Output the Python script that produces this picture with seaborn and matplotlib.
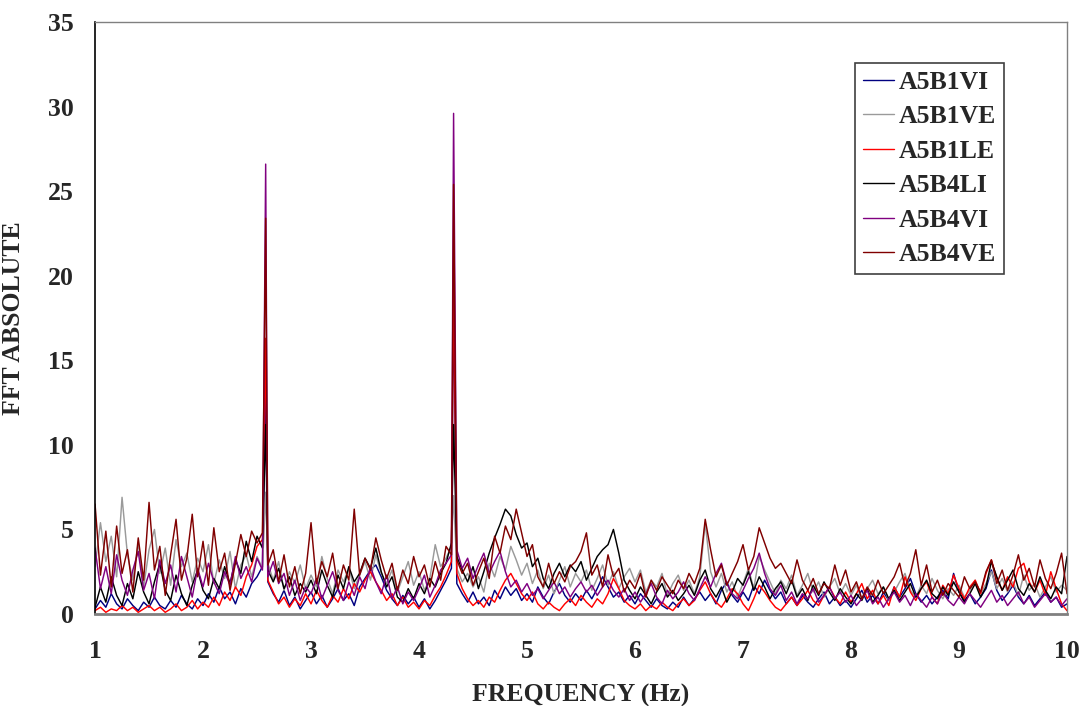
import numpy as np
import pandas as pd
import matplotlib
matplotlib.use("Agg")
import matplotlib.pyplot as plt
import seaborn as sns

# ---------------- data ----------------
series_names = ["A5B1VI", "A5B1VE", "A5B1LE", "A5B4LI", "A5B4VI", "A5B4VE"]
series_colors = ["#000080", "#9a9a9a", "#ff0000", "#000000", "#800080", "#800000"]

# base frequency grid (Hz), 1.00 .. 10.00 in 0.05 steps
freq = np.round(np.linspace(1.0, 10.0, 181), 2)
# narrow resonance peaks
peak_freq = [2.58, 4.32]

a5b1vi = [
    0.3, 0.8, 0.4, 1.2, 0.6, 0.3, 0.9, 0.5, 0.2, 0.7, 0.4, 1.0, 0.5, 0.3, 0.8, 0.4, 1.1, 0.6, 0.3, 0.9,
    0.5, 1.2, 0.7, 1.6, 0.9, 1.3, 0.6, 1.5, 1.0, 1.8, 2.2, 2.8, 1.9, 1.2, 0.7, 1.4, 0.5, 1.0, 0.3, 0.8,
    1.3, 0.6, 1.1, 0.4, 0.9, 1.5, 0.8, 1.2, 0.5, 1.6, 2.1, 2.6, 2.9, 2.2, 1.4, 0.9, 0.5, 1.1, 0.6, 1.0,
    0.4, 0.9, 0.3, 0.8, 1.4, 2.0, 2.7, 1.8, 1.2, 0.7, 1.3, 0.6, 1.0, 0.5, 1.4, 0.9, 1.6, 1.1, 1.5, 0.8,
    1.2, 0.7, 1.6, 1.0, 0.6, 1.3, 1.8, 1.1, 0.7, 1.2, 0.8, 1.4, 0.9, 1.5, 2.2, 1.6, 1.0, 1.3, 0.7, 1.1,
    0.6, 1.2, 0.8, 0.4, 0.9, 0.5, 0.3, 0.7, 0.4, 1.0, 0.5, 0.9, 1.3, 0.8, 1.2, 0.6, 1.4, 1.9, 1.1, 0.7,
    1.3, 0.8, 1.7, 1.2, 2.0, 1.4, 0.9, 1.3, 0.6, 1.0, 0.5, 1.1, 0.7, 0.4, 0.9, 1.3, 0.6, 1.0, 0.5, 0.8,
    0.4, 0.9, 1.4, 0.7, 1.1, 0.6, 1.3, 0.8, 1.6, 1.0, 1.5, 2.1, 1.2, 0.7, 1.1, 0.6, 1.0, 1.4, 0.9, 2.4,
    1.3, 0.8, 1.2, 0.6, 1.0, 1.5, 2.6, 1.4, 0.8, 1.2, 1.7, 1.0, 0.6, 1.1, 0.5, 0.9, 1.3, 0.7, 1.0, 0.4,
    0.6]
a5b1vi_peaks = [13.5, 19.2]

a5b1ve = [
    2.8, 5.4, 3.1, 4.6, 2.2, 6.9, 3.5, 2.0, 4.2, 1.6, 3.8, 5.0, 2.4, 3.9, 1.7, 4.4, 2.8, 3.6, 1.9, 3.3,
    2.5, 4.1, 1.8, 3.2, 2.1, 3.7, 1.5, 2.9, 3.5, 2.2, 3.4, 2.7, 3.0, 2.0, 3.1, 1.4, 2.5, 1.8, 2.9, 1.5,
    2.3, 1.6, 3.4, 2.1, 1.2, 2.6, 1.9, 2.7, 1.5, 2.3, 3.1, 2.0, 3.5, 2.4, 1.8, 2.6, 1.3, 2.2, 3.1, 1.7,
    2.5, 1.4, 2.1, 4.1, 2.8, 3.3, 4.0, 2.7, 1.9, 2.4, 1.6, 2.2, 1.3, 3.0, 2.2, 3.4, 2.6, 4.0, 3.2, 2.3,
    3.0, 1.8, 2.6, 1.5, 2.3, 1.2, 2.0, 2.8, 1.6, 2.4, 1.9, 2.6, 1.4, 2.1, 2.9, 1.7, 2.5, 1.5, 2.2, 2.7,
    1.9, 2.6, 1.3, 2.0, 1.6, 2.4, 1.1, 1.8, 2.3, 1.4, 2.0, 1.2, 2.2, 5.4, 2.5, 1.6, 2.4, 1.3, 1.9, 1.0,
    1.8, 2.7, 1.5, 3.4, 2.6, 1.9, 1.2, 2.0, 1.5, 2.3, 1.1, 1.7, 2.4, 1.3, 1.9, 1.0, 1.6, 2.1, 1.2, 1.8,
    1.1, 1.7, 0.9, 1.5, 2.0, 1.2, 1.6, 0.8, 1.3, 1.9, 2.4, 1.4, 1.0, 1.7, 1.2, 2.1, 1.4, 0.9, 1.5, 1.1,
    1.7, 1.0, 1.4, 2.0, 1.2, 1.8, 2.5, 1.5, 2.1, 1.3, 1.9, 1.1, 2.3, 1.4, 1.8, 1.0, 1.6, 2.2, 1.3, 1.7,
    1.4]
a5b1ve_peaks = [7.2, 7.0]

a5b1le = [
    0.2, 0.4, 0.1, 0.3, 0.2, 0.5, 0.2, 0.4, 0.1, 0.3, 0.5, 0.2, 0.4, 0.1, 0.3, 0.6, 0.2, 0.4, 0.8, 0.3,
    0.7, 0.4, 1.0, 0.5, 1.3, 0.8, 1.6, 1.1, 2.2, 2.9, 4.0, 4.4, 2.0, 1.3, 0.6, 1.0, 0.4, 0.9, 0.5, 1.2,
    0.6, 1.4, 0.8, 0.4, 1.1, 0.7, 1.5, 0.9, 1.8, 1.3, 2.0, 2.5, 1.9, 1.4, 0.8, 1.2, 0.5, 1.0, 0.4, 0.7,
    0.3, 0.8, 0.5, 1.1, 1.6, 2.3, 3.1, 2.4, 1.5, 0.9, 0.5, 0.8, 0.4, 1.0, 0.7, 1.4, 2.0, 2.4, 1.8, 1.2,
    0.8, 1.3, 0.6, 0.3, 0.7, 0.4, 0.2, 0.6, 0.9, 0.5, 1.1, 0.7, 0.4, 0.9, 0.6, 1.2, 2.1, 1.5, 0.8, 0.5,
    0.3, 0.6, 0.2, 0.5, 0.3, 0.7, 0.4, 0.2, 0.6, 0.9, 0.5, 0.8, 1.4, 1.9, 1.2, 0.7, 0.4, 0.9, 1.5, 1.2,
    0.6, 0.2, 0.9, 1.7, 1.3, 0.8, 0.4, 0.2, 0.6, 1.0, 0.5, 0.9, 1.4, 0.8, 0.5, 1.1, 1.6, 1.0, 0.6, 1.3,
    0.7, 1.2, 1.8, 0.9, 1.4, 0.6, 1.1, 0.5, 1.6, 1.0, 2.2, 1.3, 0.8, 1.5, 1.9, 1.0, 0.6, 1.7, 1.2, 2.3,
    1.5, 0.9, 1.6, 2.0, 1.2, 2.4, 3.2, 2.1, 1.4, 2.2, 1.6, 2.7, 3.0, 1.9, 1.3, 2.0, 1.1, 2.5, 1.5, 0.6,
    0.2]
a5b1le_peaks = [16.3, 20.7]

a5b4li = [
    0.4, 1.6, 0.7, 2.2, 1.1, 0.5, 1.8, 0.9, 2.5, 1.3, 0.6, 1.9, 3.0, 1.4, 0.8, 2.3, 1.2, 0.5, 1.7, 2.6,
    1.4, 0.9, 2.1, 1.5, 2.8, 1.8, 3.2, 2.4, 4.3, 3.1, 4.6, 3.9, 2.6, 1.9, 2.7, 1.5, 2.2, 1.1, 1.8, 1.3,
    2.0, 1.2, 2.6, 1.7, 1.0, 2.3, 1.5, 2.8, 1.9, 2.4, 3.3, 2.7, 3.9, 2.5, 1.6, 2.2, 1.0, 0.7, 1.5, 0.9,
    1.8, 1.2, 2.1, 1.6, 2.4, 3.0, 4.2, 3.4, 2.6, 1.9, 2.8, 1.5, 2.5, 3.6, 4.5, 5.3, 6.2, 5.8, 4.7, 3.9,
    4.2, 2.8, 3.3, 2.1, 1.5, 2.4, 3.0, 2.2, 2.9, 2.5, 3.1, 2.0, 2.7, 3.4, 3.8, 4.1, 5.0, 3.6, 2.0, 1.4,
    0.9, 1.6, 1.1, 0.6, 1.3, 1.8, 1.0, 1.4, 0.8, 1.2, 1.7, 1.1, 2.0, 2.6, 1.5, 1.0, 1.6, 0.7, 1.3, 2.1,
    1.7, 2.5, 1.4, 2.2, 1.6, 0.9, 1.5, 1.9, 1.2, 2.0, 1.0, 1.5, 0.8, 1.7, 1.1, 1.9, 1.3, 0.8, 1.5, 1.0,
    0.6, 1.2, 0.8, 1.5, 0.7, 1.1, 1.6, 0.9, 1.4, 0.8, 1.3, 1.8, 1.0, 1.5, 2.0, 1.2, 0.9, 1.6, 1.1, 1.9,
    1.3, 0.7, 1.2, 1.8, 1.0, 1.6, 3.1, 2.2, 1.4, 2.0, 2.6, 1.5, 1.1, 1.8, 1.3, 2.2, 1.4, 0.9, 1.6, 1.2,
    3.4]
a5b4li_peaks = [11.2, 11.2]

a5b4vi = [
    3.9, 1.5, 2.8, 1.2, 3.5, 2.0, 1.1, 2.6, 3.7, 1.4, 2.4, 0.9, 3.2, 1.8, 2.9, 1.3, 3.4, 2.2, 1.0, 2.7,
    1.6, 3.0, 1.9, 1.2, 2.5, 1.7, 3.4, 2.1, 2.8, 1.9, 3.3, 2.6, 2.2, 3.1, 1.8, 2.4, 1.1, 2.0, 0.8, 1.6,
    1.2, 2.1, 0.9, 1.7, 2.5, 1.4, 0.8, 1.9, 1.1, 2.2, 1.5, 2.8, 1.9, 1.2, 2.3, 0.9, 1.6, 0.6, 1.3, 0.8,
    1.5, 2.3, 1.0, 1.7, 2.6, 3.0, 3.5, 3.8, 2.7, 3.3, 2.1, 2.9, 3.6, 2.4, 3.1, 3.7, 2.5, 1.6, 2.0, 1.3,
    1.8, 1.1, 1.5, 0.9, 1.4, 1.9, 1.2, 1.6, 1.0, 1.5, 1.9, 1.3, 1.7, 1.1, 1.6, 2.0, 1.4, 1.0, 1.5, 0.8,
    1.3, 0.7, 1.2, 1.8, 1.0, 0.6, 1.4, 0.9, 1.3, 1.9, 1.2, 0.8, 1.5, 2.2, 1.6, 2.4, 3.0, 1.8, 1.2, 0.9,
    1.4, 2.1, 2.7, 3.6, 2.4, 1.5, 1.1, 1.7, 0.8, 1.3, 0.6, 1.2, 0.9, 1.5, 0.7, 1.1, 1.6, 0.9, 1.3, 0.7,
    1.1, 0.5, 0.9, 1.4, 0.6, 1.0, 0.4, 0.9, 1.3, 0.7, 1.1, 0.5, 1.2, 0.8, 0.4, 1.0, 0.6, 1.3, 0.8, 0.5,
    1.0, 0.6, 1.2, 0.8, 0.4, 0.9, 1.4, 0.7, 1.1, 0.5, 0.9, 1.3, 0.6, 1.0, 0.4, 0.8, 1.2, 0.7, 1.0, 0.5,
    0.9]
a5b4vi_peaks = [26.6, 29.6]

a5b4ve = [
    6.5, 2.3, 4.9, 1.6, 5.2, 2.4, 3.8, 1.3, 4.5, 2.0, 6.6, 2.6, 4.0, 1.1, 3.5, 5.6, 2.0, 3.3, 5.9, 2.2,
    4.3, 1.7, 5.1, 2.5, 3.6, 1.4, 3.0, 4.7, 3.4, 4.9, 4.2, 4.8, 2.9, 3.8, 1.9, 3.5, 1.6, 2.8, 1.2, 2.4,
    5.4, 1.8, 3.1, 2.2, 3.6, 1.5, 2.9, 2.0, 6.2, 2.3, 3.3, 2.6, 4.5, 3.2, 2.1, 3.0, 1.4, 2.6, 1.8, 3.4,
    2.2, 2.9, 1.6, 3.1, 2.0, 4.0, 3.5, 3.2, 2.4, 3.0, 1.7, 2.5, 3.3, 2.1, 4.6, 3.6, 5.2, 4.4, 6.2, 4.8,
    3.4, 4.1, 2.2, 1.6, 3.0, 1.8, 2.5, 1.9, 2.8, 3.1, 3.7, 4.8, 2.3, 2.9, 1.6, 3.5, 2.2, 2.7, 1.3, 2.0,
    1.5, 2.4, 1.0, 2.0, 1.4, 2.2, 1.7, 1.2, 2.0, 1.5, 2.4, 1.8, 2.7, 5.6, 3.8, 2.2, 2.9, 1.7, 2.4, 3.1,
    4.1, 2.6, 3.4, 5.1, 4.2, 3.3, 2.7, 3.0, 2.4, 1.8, 3.2, 2.0, 1.4, 2.1, 1.2, 1.8, 1.5, 2.9, 1.7, 2.6,
    1.3, 1.9, 0.9, 1.6, 1.1, 2.0, 1.2, 1.7, 2.2, 3.0, 1.6, 2.4, 3.8, 1.7, 2.9, 1.3, 2.0, 1.1, 1.8, 1.4,
    1.0, 2.2, 1.5, 1.9, 1.3, 2.5, 3.2, 1.8, 2.6, 1.4, 2.3, 3.5, 2.0, 2.7, 1.6, 3.2, 2.1, 1.5, 2.4, 3.6,
    1.2]
a5b4ve_peaks = [23.4, 25.4]

series_values = [a5b1vi, a5b1ve, a5b1le, a5b4li, a5b4vi, a5b4ve]
series_peaks = [a5b1vi_peaks, a5b1ve_peaks, a5b1le_peaks, a5b4li_peaks, a5b4vi_peaks, a5b4ve_peaks]

x_ticks = [1, 2, 3, 4, 5, 6, 7, 8, 9, 10]
y_ticks = [0, 5, 10, 15, 20, 25, 30, 35]

# ---------------- build long table ----------------
frames = []
for name, vals, pk in zip(series_names, series_values, series_peaks):
    assert len(vals) == len(freq), (name, len(vals))
    f = np.concatenate([freq, peak_freq])
    v = np.concatenate([vals, pk])
    order = np.argsort(f, kind="stable")
    frames.append(pd.DataFrame({"freq": f[order], "fft": v[order], "series": name}))
df = pd.concat(frames, ignore_index=True)

# ---------------- plot ----------------
sns.set_style("white")
plt.rcParams["font.family"] = ["Liberation Serif", "DejaVu Serif"]
plt.rcParams["font.weight"] = "bold"

fig = plt.figure(figsize=(10.85, 7.06), dpi=100)
ax = fig.add_axes([0.0876, 0.1303, 0.8958, 0.8385])

sns.lineplot(data=df, x="freq", y="fft", hue="series", hue_order=series_names,
             palette=dict(zip(series_names, series_colors)), estimator=None,
             sort=False, linewidth=1.05, ax=ax, legend=True)

ax.set_xlim(1, 10)
ax.set_ylim(0, 35)
ax.set_xticks(x_ticks)
ax.set_yticks(y_ticks)
ax.set_xticklabels([str(t) for t in x_ticks], fontsize=18.5, fontweight="bold")
ax.set_yticklabels([str(t) for t in y_ticks], fontsize=18.5, fontweight="bold")
ax.tick_params(axis="x", direction="out", length=6.5, width=1.0, color="#000000", pad=12)
ax.tick_params(axis="y", direction="out", length=6.5, width=1.0, color="#000000", pad=9)

ax.set_xlabel("FREQUENCY (Hz)", fontsize=18.5, fontweight="bold", labelpad=15)
ax.set_ylabel("FFT ABSOLUTE", fontsize=18.5, fontweight="bold", labelpad=16)

ax.spines["left"].set_color("#000000")
ax.spines["left"].set_linewidth(1.2)
ax.spines["bottom"].set_color("#808080")
ax.spines["bottom"].set_linewidth(2.0)
for s in ("top", "right"):
    ax.spines[s].set_color("#808080")
    ax.spines[s].set_linewidth(1.0)

handles, labels = ax.get_legend_handles_labels()
leg = ax.legend(handles, labels, loc="upper left", bbox_to_anchor=(0.782, 0.931),
                frameon=True, fancybox=False, edgecolor="#404040", framealpha=1,
                prop={"family": "Liberation Serif", "weight": "bold", "size": 18.5},
                handlelength=1.2, handletextpad=0.2, labelspacing=0.45, borderpad=0.3,
                borderaxespad=0)
leg.get_frame().set_linewidth(1.2)
for h in leg.get_lines():
    h.set_linewidth(1.0)

fig.savefig("out.png", dpi=100)
